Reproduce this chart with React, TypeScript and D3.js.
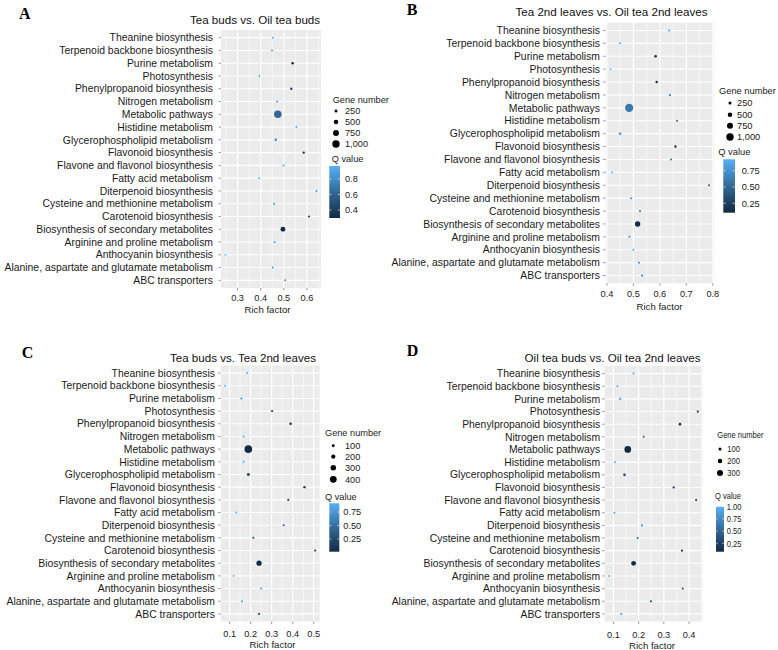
import React from 'react';
import * as d3 from 'd3';

// Categories, top to bottom as drawn
const CATEGORIES = [
  'Theanine biosynthesis',
  'Terpenoid backbone biosynthesis',
  'Purine metabolism',
  'Photosynthesis',
  'Phenylpropanoid biosynthesis',
  'Nitrogen metabolism',
  'Metabolic pathways',
  'Histidine metabolism',
  'Glycerophospholipid metabolism',
  'Flavonoid biosynthesis',
  'Flavone and flavonol biosynthesis',
  'Fatty acid metabolism',
  'Diterpenoid biosynthesis',
  'Cysteine and methionine metabolism',
  'Carotenoid biosynthesis',
  'Biosynthesis of secondary metabolites',
  'Arginine and proline metabolism',
  'Anthocyanin biosynthesis',
  'Alanine, aspartate and glutamate metabolism',
  'ABC transporters',
];

// Panel A: Tea buds vs. Oil tea buds
const A_RICH = [0.452, 0.449, 0.538, 0.394, 0.532, 0.471, 0.474, 0.554, 0.465, 0.586, 0.499, 0.393, 0.641, 0.458, 0.609, 0.496, 0.46, 0.248, 0.452, 0.506];
const A_GENES = [60, 60, 170, 50, 150, 60, 1020, 50, 150, 130, 50, 50, 50, 70, 100, 560, 60, 40, 60, 80];
const A_Q = [0.92, 0.9, 0.32, 0.93, 0.45, 0.85, 0.62, 0.9, 0.75, 0.36, 0.85, 0.94, 0.8, 0.85, 0.42, 0.297, 0.85, 0.968, 0.85, 0.8];
const A_X_TICKS = [0.3, 0.4, 0.5, 0.6];
const A_SIZE_BREAKS = [250, 500, 750, 1000];
const A_Q_TICKS = [0.4, 0.6, 0.8];

// Panel B: Tea 2nd leaves vs. Oil tea 2nd leaves
const B_RICH = [0.635, 0.45, 0.584, 0.414, 0.588, 0.638, 0.484, 0.665, 0.45, 0.659, 0.642, 0.42, 0.786, 0.491, 0.525, 0.516, 0.485, 0.5, 0.521, 0.533];
const B_GENES = [60, 60, 190, 50, 160, 70, 1150, 60, 160, 140, 60, 50, 60, 70, 100, 650, 70, 50, 70, 90];
const B_Q = [0.85, 0.85, 0.12, 0.925, 0.2, 0.55, 0.6, 0.5, 0.75, 0.2, 0.5, 0.9, 0.3, 0.75, 0.65, 0.106, 0.7, 0.85, 0.7, 0.65];
const B_X_TICKS = [0.4, 0.5, 0.6, 0.7, 0.8];
const B_SIZE_BREAKS = [250, 500, 750, 1000];
const B_Q_TICKS = [0.25, 0.5, 0.75];

// Panel C: Tea buds vs. Tea 2nd leaves
const C_RICH = [0.183, 0.079, 0.156, 0.302, 0.39, 0.167, 0.189, 0.167, 0.189, 0.456, 0.379, 0.132, 0.357, 0.213, 0.507, 0.24, 0.119, 0.25, 0.159, 0.24];
const C_GENES = [30, 25, 35, 50, 70, 30, 460, 30, 90, 60, 45, 30, 35, 45, 40, 280, 25, 30, 30, 45];
const C_Q = [0.9, 0.911, 0.7, 0.2, 0.05, 0.85, 0.015, 0.85, 0.1, 0.1, 0.2, 0.9, 0.45, 0.35, 0.1, 0.03, 0.9, 0.8, 0.8, 0.3];
const C_X_TICKS = [0.1, 0.2, 0.3, 0.4, 0.5];
const C_SIZE_BREAKS = [100, 200, 300, 400];
const C_Q_TICKS = [0.25, 0.5, 0.75];

// Panel D: Oil tea buds vs. Oil tea 2nd leaves
const D_RICH = [0.18, 0.116, 0.127, 0.435, 0.364, 0.22, 0.157, 0.107, 0.144, 0.339, 0.428, 0.104, 0.213, 0.196, 0.372, 0.18, 0.083, 0.375, 0.249, 0.131];
const D_GENES = [25, 25, 30, 45, 70, 30, 350, 20, 75, 45, 35, 25, 30, 40, 40, 220, 20, 35, 40, 30];
const D_Q = [0.95, 0.9, 0.85, 0.2, 0.1, 0.5, 0.08, 0.95, 0.35, 0.2, 0.2, 0.95, 0.75, 0.55, 0.2, 0.1, 1.0, 0.4, 0.35, 0.85];
const D_X_TICKS = [0.1, 0.2, 0.3, 0.4];
const D_SIZE_BREAKS = [100, 200, 300];
const D_Q_TICKS = [0.25, 0.5, 0.75, 1.0];

const SANS = "'Liberation Sans', Arial, sans-serif";
const LOW = '#132B43';
const HIGH = '#56B1F7';

const PANELS = [
  {
    id: 'A', title: 'Tea buds vs. Oil tea buds', rich: A_RICH, genes: A_GENES, q: A_Q,
    xTicks: A_X_TICKS, xFmt: '.1f', sizeBreaks: A_SIZE_BREAKS, sizeMax: 1000, rMax: 3.7,
    qTicks: A_Q_TICKS, qFmt: '.1f',
    L: {
      x0: 221, x1: 321, y0: 30, y1: 288, letter: [19, 18.5], title: [255, 24.3], tickLabelY: 301,
      axisTitle: [267.5, 313], labelGap: 8,
      lg: { squeeze: 1, fs: 9.2, gnTitle: [332.7, 102.5], keyYs: [111, 122, 133, 144], keyX: 336, keyLabelX: 345,
        qTitle: [331.7, 161.5], bar: [329.3, 10.7, 166, 218], barLabelX: 345 },
    },
  },
  {
    id: 'B', title: 'Tea 2nd leaves vs. Oil tea 2nd leaves', rich: B_RICH, genes: B_GENES, q: B_Q,
    xTicks: B_X_TICKS, xFmt: '.1f', sizeBreaks: B_SIZE_BREAKS, sizeMax: 1000, rMax: 3.7,
    qTicks: B_Q_TICKS, qFmt: '.2f',
    L: {
      x0: 605.7, x1: 714, y0: 22.7, y1: 283.3, letter: [406.7, 14.5], title: [611.5, 15.7], tickLabelY: 297.3,
      axisTitle: [659.5, 309.5], labelGap: 5.7,
      lg: { squeeze: 1, fs: 9.3, gnTitle: [719, 93.5], keyYs: [103, 114.7, 125.7, 137], keyX: 730, keyLabelX: 737,
        qTitle: [718.3, 154.5], bar: [723.3, 11.7, 159.3, 212.7], barLabelX: 741.7 },
    },
  },
  {
    id: 'C', title: 'Tea buds vs. Tea 2nd leaves', rich: C_RICH, genes: C_GENES, q: C_Q,
    xTicks: C_X_TICKS, xFmt: '.1f', sizeBreaks: C_SIZE_BREAKS, sizeMax: 400, rMax: 3.4,
    qTicks: C_Q_TICKS, qFmt: '.2f',
    L: {
      x0: 220.7, x1: 319.7, y0: 365.5, y1: 621.5, letter: [21.7, 358], title: [243, 362.3], tickLabelY: 636.8,
      axisTitle: [272.5, 648.4], labelGap: 5.7,
      lg: { squeeze: 1, fs: 9.2, gnTitle: [325, 436], keyYs: [445.7, 456.7, 467.7, 479.3], keyX: 333.3, keyLabelX: 345,
        qTitle: [325, 499.5], bar: [329.3, 10, 503.3, 551.7], barLabelX: 343.3 },
    },
  },
  {
    id: 'D', title: 'Oil tea buds vs. Oil tea 2nd leaves', rich: D_RICH, genes: D_GENES, q: D_Q,
    xTicks: D_X_TICKS, xFmt: '.1f', sizeBreaks: D_SIZE_BREAKS, sizeMax: 300, rMax: 3.0,
    qTicks: D_Q_TICKS, qFmt: '.2f',
    L: {
      x0: 604.7, x1: 702.3, y0: 366, y1: 621.5, letter: [406.7, 355.7], title: [612.5, 362.3], tickLabelY: 637.8,
      axisTitle: [652, 649.3], labelGap: 4.5,
      lg: { squeeze: 0.86, fs: 8.8, gnTitle: [717.3, 437.5], keyYs: [449, 461, 473], keyX: 720, keyLabelX: 727.3,
        qTitle: [715, 499.2], bar: [716, 8, 506.7, 551.7], barLabelX: 726.7 },
    },
  },
];

function LegendText({ x, y, sq, fs, children }: { x: number; y: number; sq: number; fs: number; children: any }) {
  return (
    <text transform={`translate(${x},${y}) scale(${sq},1)`} x={0} y={0} fontFamily={SANS} fontSize={fs} fill="#1a1a1a">
      {children}
    </text>
  );
}

function Panel({ p }: { p: any }) {
  const L: any = p.L;
  const [xmin, xmax] = d3.extent(p.rich as number[]) as [number, number];
  const pad = (xmax - xmin) * 0.05;
  const x = d3.scaleLinear().domain([xmin - pad, xmax + pad]).range([L.x0, L.x1]);
  const y = d3.scalePoint<string>().domain(CATEGORIES).range([L.y0, L.y1]).padding(0.6);
  const qExt = d3.extent(p.q as number[]) as [number, number];
  const color = d3.scaleLinear<string>().domain(qExt).range([LOW, HIGH]).interpolate(d3.interpolateLab);
  const r = d3.scaleLinear().domain([0, p.sizeMax]).range([0.8, p.rMax]);
  const fmt = d3.format(p.xFmt);
  const qFmt = d3.format(p.qFmt);
  const sizeFmt = d3.format(',');

  const step = p.xTicks[1] - p.xTicks[0];
  const minors: number[] = [];
  for (let i = -1; i < p.xTicks.length; i++) {
    const m = p.xTicks[0] + step * (i + 0.5);
    if (x(m) > L.x0 && x(m) < L.x1) minors.push(m);
  }

  const [bx, bw, by0, by1] = L.lg.bar;
  const qScaleBar = d3.scaleLinear().domain(qExt).range([by1, by0]);
  const gradId = 'grad' + p.id;
  const stops = d3.range(0, 11).map((i) => {
    const t = i / 10;
    return { off: t, col: color(qExt[1] - (qExt[1] - qExt[0]) * t) };
  });
  const sq = L.lg.squeeze;
  const fs = L.lg.fs;

  const data = CATEGORIES.map((c, i) => ({ c, rich: p.rich[i], genes: p.genes[i], q: p.q[i] }));

  return (
    <g>
      <text x={L.letter[0]} y={L.letter[1]} fontFamily="'Liberation Serif', 'Times New Roman', serif"
        fontWeight="bold" fontSize={16} fill="#000">{p.id}</text>
      <text x={L.title[0]} y={L.title[1]} textAnchor="middle" fontFamily={SANS} fontSize={11.6} fill="#111">{p.title}</text>

      <rect x={L.x0} y={L.y0} width={L.x1 - L.x0} height={L.y1 - L.y0} fill="#EBEBEB" />
      {minors.map((m, i) => (
        <line key={'mn' + i} x1={x(m)} x2={x(m)} y1={L.y0} y2={L.y1} stroke="#fff" strokeWidth={0.55} />
      ))}
      {p.xTicks.map((t: number, i: number) => (
        <line key={'mj' + i} x1={x(t)} x2={x(t)} y1={L.y0} y2={L.y1} stroke="#fff" strokeWidth={1.1} />
      ))}
      {CATEGORIES.map((c) => (
        <line key={'hg' + c} x1={L.x0} x2={L.x1} y1={y(c)} y2={y(c)} stroke="#fff" strokeWidth={1.1} />
      ))}

      {CATEGORIES.map((c) => (
        <g key={'yl' + c}>
          <line x1={L.x0 - 2.5} x2={L.x0} y1={y(c)} y2={y(c)} stroke="#555" strokeWidth={0.6} />
          <text x={L.x0 - L.labelGap} y={(y(c) as number) + 3.7} textAnchor="end" fontFamily={SANS}
            fontSize={10.4} fill="#1a1a1a">{c}</text>
        </g>
      ))}

      {p.xTicks.map((t: number, i: number) => (
        <g key={'xt' + i}>
          <line x1={x(t)} x2={x(t)} y1={L.y1} y2={L.y1 + 2.5} stroke="#555" strokeWidth={0.6} />
          <text x={x(t)} y={L.tickLabelY} textAnchor="middle" fontFamily={SANS} fontSize={9.2} fill="#1a1a1a">{fmt(t)}</text>
        </g>
      ))}
      <text x={L.axisTitle[0]} y={L.axisTitle[1]} textAnchor="middle" fontFamily={SANS}
        fontSize={9.6} fill="#1a1a1a">Rich factor</text>

      {data.map((d) => (
        <circle key={'pt' + d.c} cx={x(d.rich)} cy={y(d.c)} r={r(d.genes)} fill={color(d.q)} />
      ))}

      <LegendText x={L.lg.gnTitle[0]} y={L.lg.gnTitle[1]} sq={sq} fs={fs}>Gene number</LegendText>
      {p.sizeBreaks.map((b: number, i: number) => (
        <g key={'sb' + i}>
          <circle cx={L.lg.keyX} cy={L.lg.keyYs[i]} r={r(b)} fill="#000" />
          <LegendText x={L.lg.keyLabelX} y={L.lg.keyYs[i] + 3.3} sq={sq} fs={fs}>{sizeFmt(b)}</LegendText>
        </g>
      ))}

      <LegendText x={L.lg.qTitle[0]} y={L.lg.qTitle[1]} sq={sq} fs={fs}>Q value</LegendText>
      <defs>
        <linearGradient id={gradId} x1="0" x2="0" y1="0" y2="1">
          {stops.map((s, i) => (
            <stop key={i} offset={s.off} stopColor={s.col} />
          ))}
        </linearGradient>
      </defs>
      <rect x={bx} y={by0} width={bw} height={by1 - by0} fill={`url(#${gradId})`} />
      {p.qTicks.map((t: number, i: number) => (
        <g key={'qt' + i}>
          <line x1={bx} x2={bx + bw * 0.2} y1={qScaleBar(t)} y2={qScaleBar(t)} stroke="#fff" strokeWidth={0.6} />
          <line x1={bx + bw * 0.8} x2={bx + bw} y1={qScaleBar(t)} y2={qScaleBar(t)} stroke="#fff" strokeWidth={0.6} />
          <LegendText x={L.lg.barLabelX} y={qScaleBar(t) + 3.2} sq={sq} fs={fs}>{qFmt(t)}</LegendText>
        </g>
      ))}
    </g>
  );
}

export default function App() {
  return (
    <svg width={778} height={650} viewBox="0 0 778 650"
      style={{ position: 'absolute', left: 0, top: 0, background: '#fff' }}>
      <rect x={0} y={0} width={778} height={650} fill="#fff" />
      {PANELS.map((p) => (
        <Panel key={p.id} p={p} />
      ))}
    </svg>
  );
}
